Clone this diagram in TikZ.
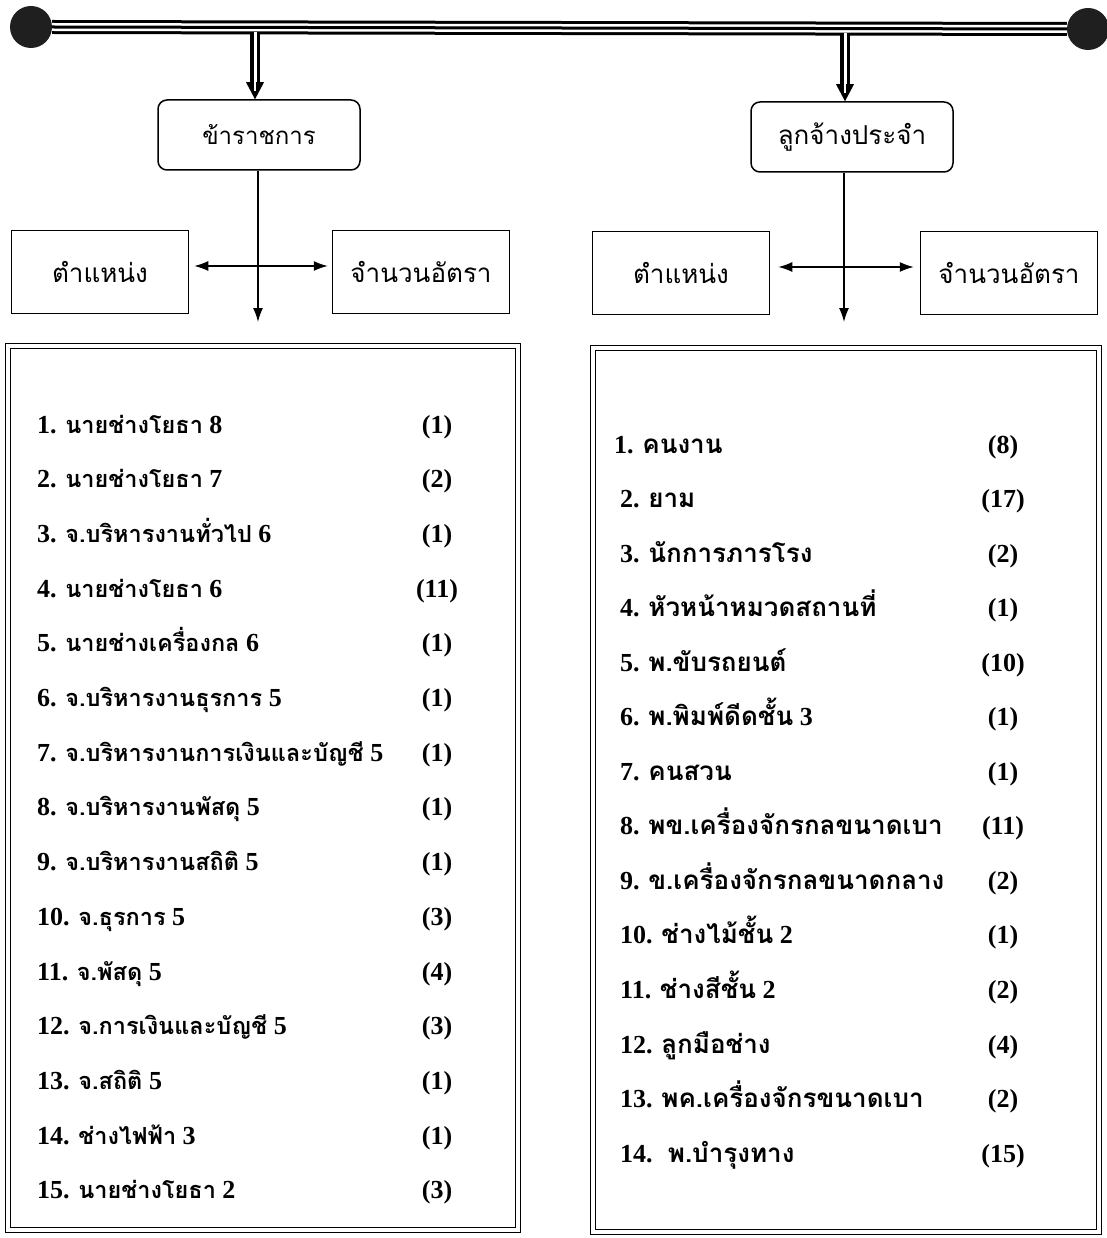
\documentclass[tikz,border=0pt]{standalone}
\usepackage{fontspec}
\setmainfont{Liberation Serif}
\newfontfamily\thaifont[Script=Thai]{Loma}
\usetikzlibrary{arrows.meta,calc}
\newcommand\T[1]{{\thaifont #1}}
\newcommand\Ts[1]{{\thaifont\fontsize{23.5}{28}\selectfont #1}}
\begin{document}
\begin{tikzpicture}[x=1pt,y=-1pt,
  hdr/.style={draw,line width=1.5pt,rounded corners=9pt,minimum width=202pt,minimum height=70pt,inner sep=0pt,font=\fontsize{26}{30}\selectfont},
  sqbox/.style={draw,line width=1.5pt,minimum width=177pt,minimum height=83pt,inner sep=0pt,font=\fontsize{26}{30}\selectfont},
  frame/.style={draw,line width=1.2pt,double,double distance=4pt,inner sep=0pt},
  ball/.style={circle,fill=black!88,minimum size=42pt,inner sep=0pt},
  item/.style={anchor=base west,inner sep=0pt,font=\bfseries\fontsize{26}{30}\selectfont},
  num/.style={anchor=base,inner sep=0pt,font=\bfseries\fontsize{26}{30}\selectfont},
  conn/.style={line width=1.5pt,-{Latex[length=14pt,width=10pt]}},
  biconn/.style={line width=1.5pt,{Latex[length=14pt,width=10pt]}-{Latex[length=14pt,width=10pt]}},
  shaft/.style={line width=3.5pt,double=white,double distance=3pt},
]
\useasboundingbox (0,0) rectangle (1106,1238);
\fill[white] (0,0) rectangle (1106,1238);

% top bar with balls
\node[ball] (cl) at (31,27) {};
\node[ball] (cr) at (1088,29) {};
\draw[line width=14pt] (cl.east) -- (cr.west);
\draw[white,line width=8pt] (cl.east) -- (cr.west);
\draw[line width=3pt] (cl.east) -- (cr.west);

% header boxes
\node[hdr] (h1) at (259,135) {\T{\fontsize{24}{28}\selectfont ข้าราชการ}};
\node[hdr] (h2) at (852,137) {\T{ลูกจ้างประจำ}};

% double-shaft arrows from the bar
\coordinate (a1) at (255,32);
\coordinate (a2) at (845,33);
\coordinate (t1) at (a1 |- h1.north);
\coordinate (t2) at (a2 |- h2.north);
\draw[shaft] (a1) -- ($(t1)+(0,-15)$);
\fill (t1) -- ++(-9,-17) -- ++(18,0) -- cycle;
\draw[white,line width=2pt] ($(t1)+(0,-17)$) -- ($(t1)+(0,-8)$);
\draw[shaft] (a2) -- ($(t2)+(0,-15)$);
\fill (t2) -- ++(-9,-17) -- ++(18,0) -- cycle;
\draw[white,line width=2pt] ($(t2)+(0,-17)$) -- ($(t2)+(0,-8)$);

% side boxes
\node[sqbox] (p1) at (100,272) {\T{ตำแหน่ง}};
\node[sqbox] (n1) at (421,272) {\T{จำนวนอัตรา}};
\node[sqbox] (p2) at (681,273) {\T{ตำแหน่ง}};
\node[sqbox] (n2) at (1009,273) {\T{จำนวนอัตรา}};

% vertical connectors
\coordinate (v1) at (258,322);
\coordinate (v2) at (844,322);
\draw[conn] (h1.south -| v1) -- (v1);
\draw[conn] (h2.south -| v2) -- (v2);
\draw[biconn,shorten <=5pt,shorten >=4pt] ([yshift=6pt]p1.east) -- ([yshift=6pt]n1.west);
\draw[biconn,shorten <=8pt,shorten >=6pt] ([yshift=6pt]p2.east) -- ([yshift=6pt]n2.west);

% list frames
\node[frame,minimum width=510pt,minimum height=884pt] (L) at (263,788) {};
\node[frame,minimum width=506pt,minimum height=884pt] (R) at (846,790) {};

% left list
\foreach \i/\t/\n in {
 1/{\Ts{นายช่างโยธา} 8}/1,
 2/{\Ts{นายช่างโยธา} 7}/2,
 3/{\Ts{จ.บริหารงานทั่วไป} 6}/1,
 4/{\Ts{นายช่างโยธา} 6}/11,
 5/{\Ts{นายช่างเครื่องกล} 6}/1,
 6/{\Ts{จ.บริหารงานธุรการ} 5}/1,
 7/{\Ts{จ.บริหารงานการเงินและบัญชี} 5}/1,
 8/{\Ts{จ.บริหารงานพัสดุ} 5}/1,
 9/{\Ts{จ.บริหารงานสถิติ} 5}/1,
 10/{\Ts{จ.ธุรการ} 5}/3,
 11/{\Ts{จ.พัสดุ} 5}/4,
 12/{\Ts{จ.การเงินและบัญชี} 5}/3,
 13/{\Ts{จ.สถิติ} 5}/1,
 14/{\Ts{ช่างไฟฟ้า} 3}/1,
 15/{\Ts{นายช่างโยธา} 2}/3}{
  \node[item] (Li\i) at (37,{378.3+54.7*\i}) {\i. \t};
  \node[num] (Ln\i) at (437,{378.3+54.7*\i}) {(\n)};
}

% right list
\foreach \i/\t/\n/\x in {
 1/{\T{คนงาน}}/8/614,
 2/{\T{ยาม}}/17/620,
 3/{\T{นักการภารโรง}}/2/620,
 4/{\T{หัวหน้าหมวดสถานที่}}/1/620,
 5/{\T{พ.ขับรถยนต์}}/10/620,
 6/{\T{พ.พิมพ์ดีดชั้น} 3}/1/620,
 7/{\T{คนสวน}}/1/620,
 8/{\T{พข.เครื่องจักรกลขนาดเบา}}/11/620,
 9/{\T{ข.เครื่องจักรกลขนาดกลาง}}/2/620,
 10/{\T{ช่างไม้ชั้น} 2}/1/620,
 11/{\T{ช่างสีชั้น} 2}/2/620,
 12/{\T{ลูกมือช่าง}}/4/620,
 13/{\T{พค.เครื่องจักรขนาดเบา}}/2/620,
 14/{\ \T{พ.บำรุงทาง}}/15/620}{
  \node[item] (Ri\i) at (\x,{398.45+54.55*\i}) {\i. \t};
  \node[num] (Rn\i) at (1003,{398.45+54.55*\i}) {(\n)};
}
\end{tikzpicture}
\end{document}
